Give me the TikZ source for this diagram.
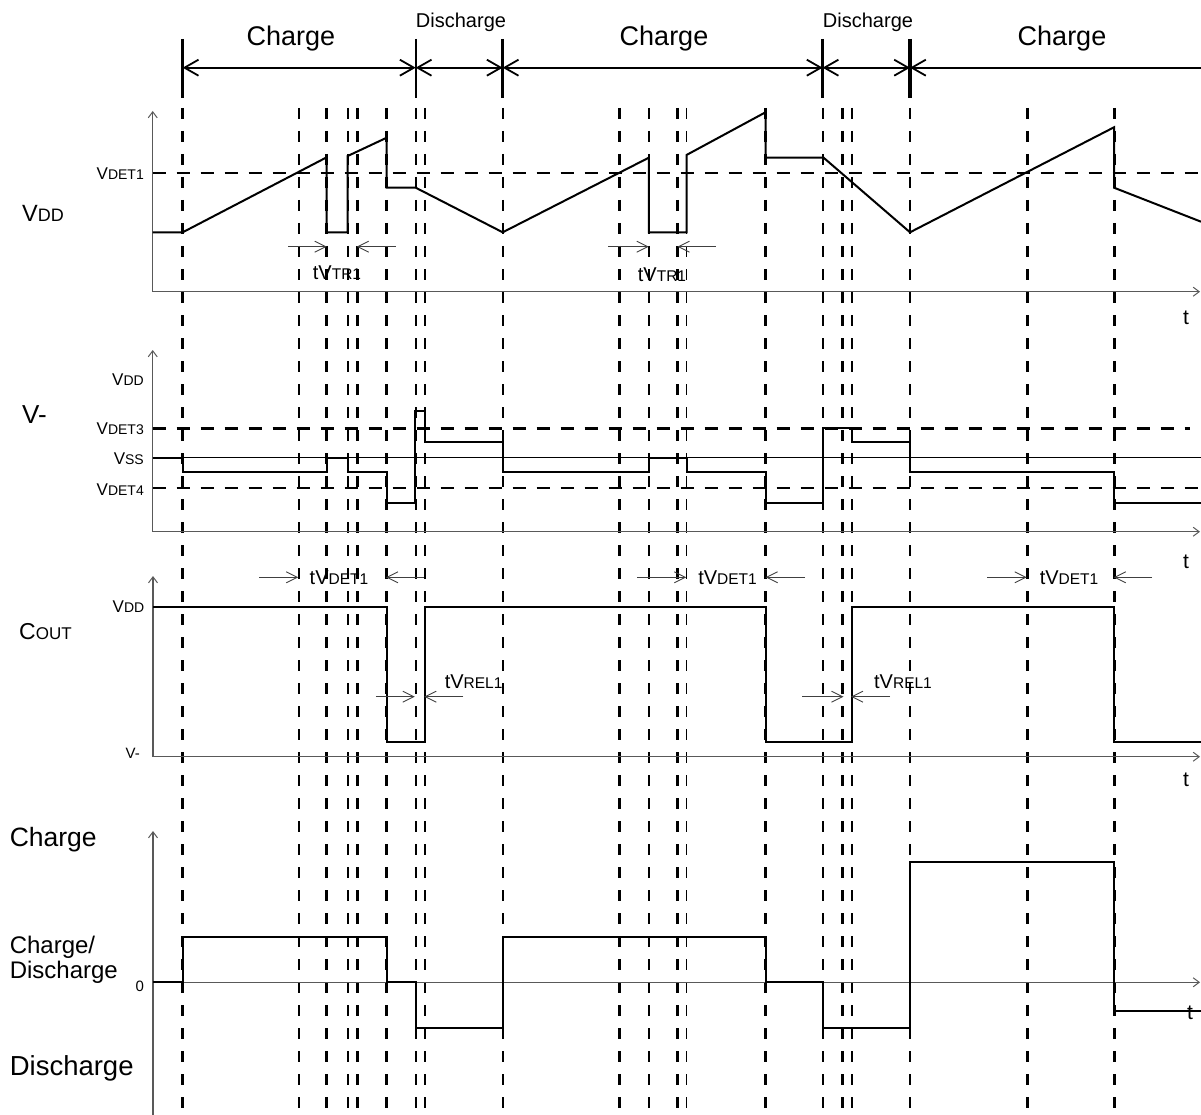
\documentclass[tikz,border=0pt]{standalone}
\usepackage{fontspec}
\setmainfont{Liberation Sans}
\usetikzlibrary{arrows.meta}
\newcommand\myfs[1]{\fontsize{#1}{#1}\selectfont}
\newcommand\sgl[2]{{\myfs{17}#1}{\myfs{14}#2}}
\newcommand\sgt[2]{{\myfs{20}t#1}{\myfs{15.5}#2}}
\newcommand\sgb[2]{{\myfs{23.5}#1}{\myfs{18}#2}}
\begin{document}
\begin{tikzpicture}[x=1pt,y=-1pt,
  wave/.style={line width=2pt, line join=miter},
  axis/.style={line width=1.2pt, black!65},
  axarr/.style={axis, -{Straight Barb[length=6pt,width=9pt,line width=1pt]}},
  tdash/.style={line width=3pt, dash pattern=on 11pt off 12pt},
  ndash/.style={line width=1.6pt, dash pattern=on 11pt off 12pt},
  hdash/.style={line width=2.4pt, dash pattern=on 13pt off 11pt},
  hdrboth/.style={line width=1.8pt, {Straight Barb[length=14pt,width=16pt,line width=1.8pt]}-{Straight Barb[length=14pt,width=16pt,line width=1.8pt]}},
  hdrleft/.style={line width=1.8pt, {Straight Barb[length=14pt,width=16pt,line width=1.8pt]}-},
  ann/.style={line width=0.9pt, black!75, -{Straight Barb[length=11pt,width=11pt,line width=0.9pt]}},
  lblE/.style={inner sep=0pt, anchor=east},
  lblW/.style={inner sep=0pt, anchor=west},
  lblC/.style={inner sep=0pt, anchor=center}]
\useasboundingbox (0,0) rectangle (1201,1115);

% ---------- vertical dashed guide lines ----------
\foreach \x in {182.7,326.7,357.3,386.7,619.5,677,765.5,842.6,1027.4,1114}
  \draw[tdash] (\x,108) -- (\x,1115);
\foreach \x in {299,347.7,415.7,425,502.7,648.7,686.5,823,851.8,910}
  \draw[ndash] (\x,108) -- (\x,1115);

% ---------- header ----------
\foreach \x/\w in {182.7/3.5,415.7/2,502.7/3.5,822.6/3.5,910/3.5}
  \draw[line width=\w pt] (\x,39) -- (\x,98);
\draw[hdrboth] (182.7,67.7) -- (415.7,67.7);
\draw[hdrboth] (415.7,67.7) -- (502.7,67.7);
\draw[hdrboth] (502.7,67.7) -- (822.6,67.7);
\draw[hdrboth] (822.6,67.7) -- (910,67.7);
\draw[hdrleft] (910,67.7) -- (1201,67.7);
\node[lblC,font=\myfs{27}] (hc1) at (291,39) {Charge};
\node[lblC,font=\myfs{20}] (hd1) at (461,22) {Discharge};
\node[lblC,font=\myfs{27}] (hc2) at (664,39) {Charge};
\node[lblC,font=\myfs{20}] (hd2) at (868,22) {Discharge};
\node[lblC,font=\myfs{27}] (hc3) at (1062,39) {Charge};

% ---------- VDD panel ----------
\draw[axarr] (152.7,291.7) -- (152.7,111);
\draw[axarr] (152.7,291.7) -- (1200,291.7);
\draw[hdash] (152.7,173.3) -- (1201,173.3);
\draw[wave] (152.7,232.3) -- (182.7,232.3) -- (326.7,157.3) -- (326.7,232.3)
  -- (347.7,232.3) -- (347.7,156) -- (386.7,137.7) -- (386.7,187.7) -- (415.7,187.7)
  -- (502.7,232.3) -- (648.8,157.7) -- (648.8,232.3) -- (686.5,232.3) -- (686.5,155)
  -- (765.5,112.3) -- (765.5,157.7) -- (823.6,157.7) -- (910,232.3) -- (1114,127.3)
  -- (1114,187.7) -- (1201,221.7);
\node[lblE] (vdet1) at (144,173.3) {\sgl{V}{DET1}};
\node[lblW] (vddbig) at (22,213) {\sgb{V}{DD}};
\node[lblC,font=\myfs{21}] (t1) at (1186,318) {t};
\draw[ann] (288,246.7) -- (326.7,246.7);
\draw[ann] (395.7,246.7) -- (356.7,246.7);
\node[lblC] (tvtr1) at (337,273) {\sgt{V}{TR1}};
\draw[ann] (608,246.7) -- (648.7,246.7);
\draw[ann] (715.7,246.7) -- (677.5,246.7);
\node[lblC] (tvtr2) at (662,275) {\sgt{V}{TR1}};

% ---------- V- panel ----------
\draw[axarr] (152.7,531.7) -- (152.7,350);
\draw[axarr] (152.7,531.7) -- (1200,531.7);
\draw[hdash] (152.7,428.3) -- (1190,428.3);
\draw[hdash] (152.7,487.7) -- (1201,487.7);
\draw[line width=1.2pt] (152.7,457.7) -- (1201,457.7);
\draw[wave] (152.7,457.7) -- (182.7,457.7) -- (182.7,472.3) -- (326.7,472.3)
  -- (326.7,457.7) -- (347.7,457.7) -- (347.7,472.3) -- (386.7,472.3) -- (386.7,502.7)
  -- (415,502.7) -- (415,411) -- (425,411) -- (425,442.3) -- (502.7,442.3)
  -- (502.7,472.3) -- (648.8,472.3) -- (648.8,457.7) -- (686.5,457.7) -- (686.5,472.3)
  -- (765.5,472.3) -- (765.5,502.7) -- (823,502.7) -- (823,427.5) -- (851.5,427.5)
  -- (851.5,442.3) -- (910,442.3) -- (910,472.3) -- (1114,472.3) -- (1114,502.7)
  -- (1201,502.7);
\node[lblE] (vmvdd) at (144,380) {\sgl{V}{DD}};
\node[lblE] (vdet3) at (144,428.3) {\sgl{V}{DET3}};
\node[lblE] (vss) at (144,459) {\sgl{V}{SS}};
\node[lblE] (vdet4) at (144,490) {\sgl{V}{DET4}};
\node[lblW,font=\myfs{26}] (vmbig) at (22,415) {V-};
\node[lblC,font=\myfs{21}] (t2) at (1186,562) {t};

% ---------- COUT panel ----------
\draw[axarr] (153,756.7) -- (153,576);
\draw[axarr] (153,756.7) -- (1200,756.7);
\draw[wave] (153,606.7) -- (386.5,606.7) -- (386.5,742.3) -- (424.5,742.3)
  -- (424.5,606.7) -- (765.5,606.7) -- (765.5,742.3) -- (851.8,742.3) -- (851.8,606.7)
  -- (1114,606.7) -- (1114,742.3) -- (1201,742.3);
\node[lblE] (cvdd) at (144.5,606.7) {\sgl{V}{DD}};
\node[lblE,font=\myfs{15}] (cvm) at (140,753) {V-};
\node[lblW] (coutbig) at (19,631.7) {{\myfs{23}C}{\myfs{17}OUT}};
\node[lblC,font=\myfs{21}] (t3) at (1186,780) {t};
\draw[ann] (259.2,577.3) -- (298.2,577.3);
\draw[ann] (424.3,577.3) -- (386,577.3);
\node[lblC] (tvdet1) at (339,577.3) {\sgt{V}{DET1}};
\draw[ann] (637.2,577.3) -- (686.3,577.3);
\draw[ann] (805,577.3) -- (765.6,577.3);
\node[lblC] (tvdet2) at (727.5,577.3) {\sgt{V}{DET1}};
\draw[ann] (987.3,577.3) -- (1026.8,577.3);
\draw[ann] (1152,577.3) -- (1113.8,577.3);
\node[lblC] (tvdet3) at (1069,577.3) {\sgt{V}{DET1}};
\draw[ann] (375.8,696.7) -- (414.8,696.7);
\draw[ann] (463.3,696.7) -- (424.3,696.7);
\node[lblC] (tvrel1) at (473.6,681.7) {\sgt{V}{REL1}};
\draw[ann] (802,696.7) -- (843.5,696.7);
\draw[ann] (890,696.7) -- (851,696.7);
\node[lblC] (tvrel2) at (903,681.7) {\sgt{V}{REL1}};

% ---------- Charge / Discharge panel ----------
\draw[axarr] (153,1115) -- (153,831);
\draw[axarr] (153,982.3) -- (1200,982.3);
\draw[wave] (153,982.3) -- (182.7,982.3) -- (182.7,936.7) -- (386.7,936.7)
  -- (386.7,982.3) -- (415.7,982.3) -- (415.7,1027.7) -- (502.7,1027.7)
  -- (502.7,936.7) -- (765.5,936.7) -- (765.5,982.3) -- (822.6,982.3)
  -- (822.6,1027.7) -- (910,1027.7) -- (910,861.7) -- (1114,861.7)
  -- (1114,1011) -- (1201,1011);
\node[lblW,font=\myfs{26.5}] (bch) at (9.6,840) {Charge};
\node[lblW,font=\myfs{24},align=left] (bchd) at (9.6,960) {Charge/\\[1pt]Discharge};
\node[lblC,font=\myfs{15}] (zero) at (139.7,986.7) {0};
\node[lblW,font=\myfs{27.5}] (bdis) at (9.6,1068) {Discharge};
\node[lblC,font=\myfs{21}] (t4) at (1190,1013) {t};
\end{tikzpicture}
\end{document}
